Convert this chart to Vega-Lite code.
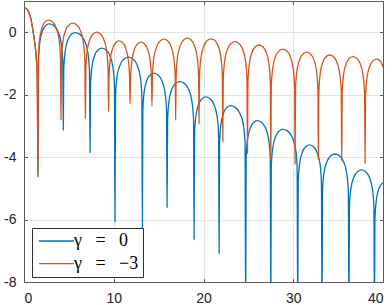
{
  "$schema": "https://vega.github.io/schema/vega-lite/v6.json",
  "width": 359,
  "height": 281,
  "autosize": {"type": "none"},
  "padding": {"left": 24, "top": 1, "right": 9, "bottom": 23},
  "background": "white",
  "data": {"values": [
{"s":"b","x":0,"y":0.78},{"s":"b","x":0.25,"y":0.76},{"s":"b","x":0.5,"y":0.66},{"s":"b","x":0.75,"y":0.45},{"s":"b","x":1.0,"y":0.05},{"s":"b","x":1.2,"y":-0.35},{"s":"b","x":1.35,"y":-0.75},{"s":"b","x":1.47,"y":-1.4},{"s":"b","x":1.56,"y":-4.63},
{"s":"b","x":1.61,"y":-0.93},{"s":"b","x":1.76,"y":-0.33},{"s":"b","x":2.06,"y":0.04},{"s":"b","x":2.44,"y":0.22},{"s":"b","x":2.82,"y":0.27},{"s":"b","x":3.29,"y":0.22},{"s":"b","x":3.76,"y":0.04},{"s":"b","x":4.13,"y":-0.33},{"s":"b","x":4.32,"y":-0.93},{"s":"b","x":4.38,"y":-3.13},
{"s":"b","x":4.43,"y":-1.21},{"s":"b","x":4.59,"y":-0.61},{"s":"b","x":4.90,"y":-0.24},{"s":"b","x":5.30,"y":-0.06},{"s":"b","x":5.69,"y":-0.01},{"s":"b","x":6.19,"y":-0.06},{"s":"b","x":6.69,"y":-0.24},{"s":"b","x":7.09,"y":-0.61},{"s":"b","x":7.29,"y":-1.21},{"s":"b","x":7.36,"y":-3.85},
{"s":"b","x":7.41,"y":-1.71},{"s":"b","x":7.57,"y":-1.11},{"s":"b","x":7.88,"y":-0.74},{"s":"b","x":8.27,"y":-0.56},{"s":"b","x":8.66,"y":-0.51},{"s":"b","x":9.10,"y":-0.56},{"s":"b","x":9.55,"y":-0.74},{"s":"b","x":9.90,"y":-1.11},{"s":"b","x":10.08,"y":-1.71},{"s":"b","x":10.14,"y":-6.07},
{"s":"b","x":10.20,"y":-2.0},{"s":"b","x":10.38,"y":-1.4},{"s":"b","x":10.74,"y":-1.03},{"s":"b","x":11.18,"y":-0.85},{"s":"b","x":11.63,"y":-0.80},{"s":"b","x":12.10,"y":-0.85},{"s":"b","x":12.57,"y":-1.03},{"s":"b","x":12.94,"y":-1.4},{"s":"b","x":13.13,"y":-2.0},{"s":"b","x":13.19,"y":-6.31},
{"s":"b","x":13.24,"y":-2.51},{"s":"b","x":13.39,"y":-1.91},{"s":"b","x":13.69,"y":-1.54},{"s":"b","x":14.07,"y":-1.36},{"s":"b","x":14.45,"y":-1.31},{"s":"b","x":14.90,"y":-1.36},{"s":"b","x":15.34,"y":-1.54},{"s":"b","x":15.70,"y":-1.91},{"s":"b","x":15.88,"y":-2.51},{"s":"b","x":15.94,"y":-5.61},
{"s":"b","x":16.00,"y":-2.78},{"s":"b","x":16.17,"y":-2.18},{"s":"b","x":16.50,"y":-1.81},{"s":"b","x":16.93,"y":-1.63},{"s":"b","x":17.35,"y":-1.58},{"s":"b","x":17.83,"y":-1.63},{"s":"b","x":18.31,"y":-1.81},{"s":"b","x":18.69,"y":-2.18},{"s":"b","x":18.89,"y":-2.78},{"s":"b","x":18.95,"y":-6.63},
{"s":"b","x":19.00,"y":-3.27},{"s":"b","x":19.16,"y":-2.67},{"s":"b","x":19.47,"y":-2.30},{"s":"b","x":19.86,"y":-2.12},{"s":"b","x":20.25,"y":-2.07},{"s":"b","x":20.70,"y":-2.12},{"s":"b","x":21.14,"y":-2.30},{"s":"b","x":21.50,"y":-2.67},{"s":"b","x":21.68,"y":-3.27},{"s":"b","x":21.74,"y":-7.08},
{"s":"b","x":21.79,"y":-3.55},{"s":"b","x":21.94,"y":-2.95},{"s":"b","x":22.24,"y":-2.58},{"s":"b","x":22.62,"y":-2.40},{"s":"b","x":23.0,"y":-2.35},{"s":"b","x":23.51,"y":-2.40},{"s":"b","x":24.02,"y":-2.58},{"s":"b","x":24.43,"y":-2.95},{"s":"b","x":24.63,"y":-3.55},{"s":"b","x":24.7,"y":-9},
{"s":"b","x":24.75,"y":-4.03},{"s":"b","x":24.91,"y":-3.43},{"s":"b","x":25.22,"y":-3.06},{"s":"b","x":25.61,"y":-2.88},{"s":"b","x":26.0,"y":-2.83},{"s":"b","x":26.45,"y":-2.88},{"s":"b","x":26.9,"y":-3.06},{"s":"b","x":27.26,"y":-3.43},{"s":"b","x":27.44,"y":-4.03},{"s":"b","x":27.5,"y":-9},
{"s":"b","x":27.55,"y":-4.31},{"s":"b","x":27.72,"y":-3.71},{"s":"b","x":28.04,"y":-3.34},{"s":"b","x":28.45,"y":-3.16},{"s":"b","x":28.85,"y":-3.11},{"s":"b","x":29.35,"y":-3.16},{"s":"b","x":29.84,"y":-3.34},{"s":"b","x":30.24,"y":-3.71},{"s":"b","x":30.43,"y":-4.31},{"s":"b","x":30.5,"y":-9},
{"s":"b","x":30.55,"y":-4.81},{"s":"b","x":30.71,"y":-4.21},{"s":"b","x":31.02,"y":-3.84},{"s":"b","x":31.41,"y":-3.66},{"s":"b","x":31.8,"y":-3.61},{"s":"b","x":32.22,"y":-3.66},{"s":"b","x":32.64,"y":-3.84},{"s":"b","x":32.98,"y":-4.21},{"s":"b","x":33.14,"y":-4.81},{"s":"b","x":33.2,"y":-9},
{"s":"b","x":33.26,"y":-5.1},{"s":"b","x":33.43,"y":-4.5},{"s":"b","x":33.78,"y":-4.13},{"s":"b","x":34.22,"y":-3.95},{"s":"b","x":34.65,"y":-3.9},{"s":"b","x":35.12,"y":-3.95},{"s":"b","x":35.58,"y":-4.13},{"s":"b","x":35.95,"y":-4.5},{"s":"b","x":36.14,"y":-5.1},{"s":"b","x":36.2,"y":-9},
{"s":"b","x":36.26,"y":-5.61},{"s":"b","x":36.42,"y":-5.01},{"s":"b","x":36.76,"y":-4.64},{"s":"b","x":37.18,"y":-4.46},{"s":"b","x":37.6,"y":-4.41},{"s":"b","x":38.04,"y":-4.46},{"s":"b","x":38.47,"y":-4.64},{"s":"b","x":38.82,"y":-5.01},{"s":"b","x":38.99,"y":-5.61},{"s":"b","x":39.05,"y":-9},
{"s":"b","x":39.1,"y":-6.0},{"s":"b","x":39.25,"y":-5.4},{"s":"b","x":39.5,"y":-5.05},{"s":"b","x":39.75,"y":-4.9},{"s":"b","x":40,"y":-4.81},
{"s":"o","x":0,"y":0.78},{"s":"o","x":0.25,"y":0.76},{"s":"o","x":0.5,"y":0.66},{"s":"o","x":0.75,"y":0.45},{"s":"o","x":1.0,"y":0.05},{"s":"o","x":1.2,"y":-0.35},{"s":"o","x":1.35,"y":-0.75},{"s":"o","x":1.47,"y":-1.4},{"s":"o","x":1.56,"y":-4.5},
{"s":"o","x":1.61,"y":-0.81},{"s":"o","x":1.74,"y":-0.21},{"s":"o","x":2.02,"y":0.16},{"s":"o","x":2.36,"y":0.34},{"s":"o","x":2.7,"y":0.39},{"s":"o","x":3.13,"y":0.34},{"s":"o","x":3.55,"y":0.16},{"s":"o","x":3.89,"y":-0.21},{"s":"o","x":4.06,"y":-0.81},{"s":"o","x":4.12,"y":-2.81},
{"s":"o","x":4.17,"y":-0.91},{"s":"o","x":4.33,"y":-0.31},{"s":"o","x":4.64,"y":0.06},{"s":"o","x":5.03,"y":0.24},{"s":"o","x":5.42,"y":0.29},{"s":"o","x":5.85,"y":0.24},{"s":"o","x":6.27,"y":0.06},{"s":"o","x":6.61,"y":-0.31},{"s":"o","x":6.78,"y":-0.91},{"s":"o","x":6.84,"y":-2.76},
{"s":"o","x":6.89,"y":-1.2},{"s":"o","x":7.04,"y":-0.6},{"s":"o","x":7.34,"y":-0.23},{"s":"o","x":7.72,"y":-0.05},{"s":"o","x":8.1,"y":0},{"s":"o","x":8.50,"y":-0.05},{"s":"o","x":8.89,"y":-0.23},{"s":"o","x":9.21,"y":-0.6},{"s":"o","x":9.37,"y":-1.2},{"s":"o","x":9.42,"y":-2.53},
{"s":"o","x":9.47,"y":-1.48},{"s":"o","x":9.61,"y":-0.88},{"s":"o","x":9.89,"y":-0.51},{"s":"o","x":10.25,"y":-0.33},{"s":"o","x":10.6,"y":-0.28},{"s":"o","x":10.97,"y":-0.33},{"s":"o","x":11.33,"y":-0.51},{"s":"o","x":11.62,"y":-0.88},{"s":"o","x":11.77,"y":-1.48},{"s":"o","x":11.82,"y":-2.29},
{"s":"o","x":11.87,"y":-1.52},{"s":"o","x":12.02,"y":-0.92},{"s":"o","x":12.31,"y":-0.55},{"s":"o","x":12.67,"y":-0.37},{"s":"o","x":13.04,"y":-0.32},{"s":"o","x":13.41,"y":-0.37},{"s":"o","x":13.77,"y":-0.55},{"s":"o","x":14.06,"y":-0.92},{"s":"o","x":14.21,"y":-1.52},{"s":"o","x":14.26,"y":-2.37},
{"s":"o","x":14.31,"y":-1.42},{"s":"o","x":14.47,"y":-0.82},{"s":"o","x":14.80,"y":-0.45},{"s":"o","x":15.20,"y":-0.27},{"s":"o","x":15.6,"y":-0.22},{"s":"o","x":15.99,"y":-0.27},{"s":"o","x":16.38,"y":-0.45},{"s":"o","x":16.69,"y":-0.82},{"s":"o","x":16.85,"y":-1.42},{"s":"o","x":16.9,"y":-2.82},
{"s":"o","x":16.95,"y":-1.39},{"s":"o","x":17.11,"y":-0.79},{"s":"o","x":17.42,"y":-0.42},{"s":"o","x":17.81,"y":-0.24},{"s":"o","x":18.2,"y":-0.19},{"s":"o","x":18.59,"y":-0.24},{"s":"o","x":18.98,"y":-0.42},{"s":"o","x":19.29,"y":-0.79},{"s":"o","x":19.45,"y":-1.39},{"s":"o","x":19.5,"y":-2.93},
{"s":"o","x":19.55,"y":-1.41},{"s":"o","x":19.72,"y":-0.81},{"s":"o","x":20.04,"y":-0.44},{"s":"o","x":20.45,"y":-0.26},{"s":"o","x":20.85,"y":-0.21},{"s":"o","x":21.24,"y":-0.26},{"s":"o","x":21.63,"y":-0.44},{"s":"o","x":21.94,"y":-0.81},{"s":"o","x":22.10,"y":-1.41},{"s":"o","x":22.15,"y":-3.5},
{"s":"o","x":22.20,"y":-1.5},{"s":"o","x":22.37,"y":-0.9},{"s":"o","x":22.69,"y":-0.53},{"s":"o","x":23.10,"y":-0.35},{"s":"o","x":23.5,"y":-0.30},{"s":"o","x":23.92,"y":-0.35},{"s":"o","x":24.34,"y":-0.53},{"s":"o","x":24.68,"y":-0.9},{"s":"o","x":24.84,"y":-1.5},{"s":"o","x":24.9,"y":-3.88},
{"s":"o","x":24.95,"y":-1.61},{"s":"o","x":25.11,"y":-1.01},{"s":"o","x":25.42,"y":-0.64},{"s":"o","x":25.81,"y":-0.46},{"s":"o","x":26.2,"y":-0.41},{"s":"o","x":26.59,"y":-0.46},{"s":"o","x":26.98,"y":-0.64},{"s":"o","x":27.29,"y":-1.01},{"s":"o","x":27.45,"y":-1.61},{"s":"o","x":27.5,"y":-4.09},
{"s":"o","x":27.55,"y":-1.74},{"s":"o","x":27.72,"y":-1.14},{"s":"o","x":28.04,"y":-0.77},{"s":"o","x":28.45,"y":-0.59},{"s":"o","x":28.85,"y":-0.54},{"s":"o","x":29.26,"y":-0.59},{"s":"o","x":29.66,"y":-0.77},{"s":"o","x":29.98,"y":-1.14},{"s":"o","x":30.15,"y":-1.74},{"s":"o","x":30.2,"y":-4.22},
{"s":"o","x":30.25,"y":-1.84},{"s":"o","x":30.41,"y":-1.24},{"s":"o","x":30.72,"y":-0.87},{"s":"o","x":31.11,"y":-0.69},{"s":"o","x":31.5,"y":-0.64},{"s":"o","x":31.89,"y":-0.69},{"s":"o","x":32.28,"y":-0.87},{"s":"o","x":32.59,"y":-1.24},{"s":"o","x":32.75,"y":-1.84},{"s":"o","x":32.8,"y":-4.07},
{"s":"o","x":32.85,"y":-1.93},{"s":"o","x":33.0,"y":-1.33},{"s":"o","x":33.3,"y":-0.96},{"s":"o","x":33.68,"y":-0.78},{"s":"o","x":34.05,"y":-0.73},{"s":"o","x":34.46,"y":-0.78},{"s":"o","x":34.86,"y":-0.96},{"s":"o","x":35.18,"y":-1.33},{"s":"o","x":35.35,"y":-1.93},{"s":"o","x":35.4,"y":-4.11},
{"s":"o","x":35.45,"y":-1.98},{"s":"o","x":35.6,"y":-1.38},{"s":"o","x":35.9,"y":-1.01},{"s":"o","x":36.28,"y":-0.83},{"s":"o","x":36.65,"y":-0.78},{"s":"o","x":37.06,"y":-0.83},{"s":"o","x":37.46,"y":-1.01},{"s":"o","x":37.78,"y":-1.38},{"s":"o","x":37.95,"y":-1.98},{"s":"o","x":38.0,"y":-4.2},
{"s":"o","x":38.05,"y":-2.06},{"s":"o","x":38.21,"y":-1.46},{"s":"o","x":38.52,"y":-1.09},{"s":"o","x":38.91,"y":-0.91},{"s":"o","x":39.3,"y":-0.86},{"s":"o","x":39.6,"y":-0.9},{"s":"o","x":39.85,"y":-1.0},{"s":"o","x":40,"y":-1.12}
  ]},
  "layer": [
    {
      "mark": {"type": "line", "interpolate": "monotone", "clip": true, "strokeWidth": 1.3},
      "encoding": {
        "x": {"field": "x", "type": "quantitative", "scale": {"domain": [0, 40], "nice": false, "zero": false},
              "axis": {"orient": "bottom", "values": [0, 10, 20, 30, 40], "grid": true, "labelPadding": 12.5}},
        "y": {"field": "y", "type": "quantitative", "scale": {"domain": [-8, 1], "nice": false, "zero": false},
              "axis": {"orient": "left", "values": [0, -2, -4, -6, -8], "grid": true, "labelPadding": 11.5, "labelExpr": "'' + datum.value"}},
        "color": {"field": "s", "type": "nominal",
                  "scale": {"domain": ["b", "o"], "range": ["#0072BD", "#D95319"]},
                  "legend": {
                    "labelExpr": "datum.label == 'b' ? 'γ\u00a0\u00a0\u00a0=\u00a0\u00a0\u00a00' : 'γ\u00a0\u00a0\u00a0=\u00a0\u00a0\u00a0−3'",
                    "labelFont": "Liberation Serif",
                    "labelFontSize": 18,
                    "labelLimit": 200
                  }}
      }
    },
    {
      "mark": {"type": "point", "opacity": 0},
      "encoding": {
        "x": {"field": "x", "type": "quantitative", "axis": {"orient": "top", "values": [0, 10, 20, 30, 40], "labels": false, "grid": false}},
        "y": {"field": "y", "type": "quantitative", "axis": {"orient": "right", "values": [0, -2, -4, -6, -8], "labels": false, "grid": false}}
      }
    }
  ],
  "resolve": {"axis": {"x": "independent", "y": "independent"}},
  "config": {
    "view": {"stroke": null},
    "axis": {
      "title": null,
      "labelFont": "Liberation Sans",
      "labelFontSize": 14,
      "labelColor": "#262626",
      "domainColor": "#5a5a5a",
      "domainWidth": 1,
      "tickColor": "#5a5a5a",
      "tickWidth": 1,
      "tickSize": -3.5,
      "gridColor": "#e4e4e4",
      "gridWidth": 1
    },
    "legend": {
      "orient": "none",
      "legendX": 8,
      "legendY": 227,
      "title": null,
      "symbolType": "M-3.5,0H3.5",
      "symbolSize": 100,
      "symbolOffset": 11.5,
      "symbolStrokeWidth": 1.3,
      "labelColor": "#000000",
      "labelOffset": 8.5,
      "rowPadding": 4.6,
      "padding": 4,
      "fillColor": "white",
      "strokeColor": "#303030",
      "strokeWidth": 1
    }
  }
}
